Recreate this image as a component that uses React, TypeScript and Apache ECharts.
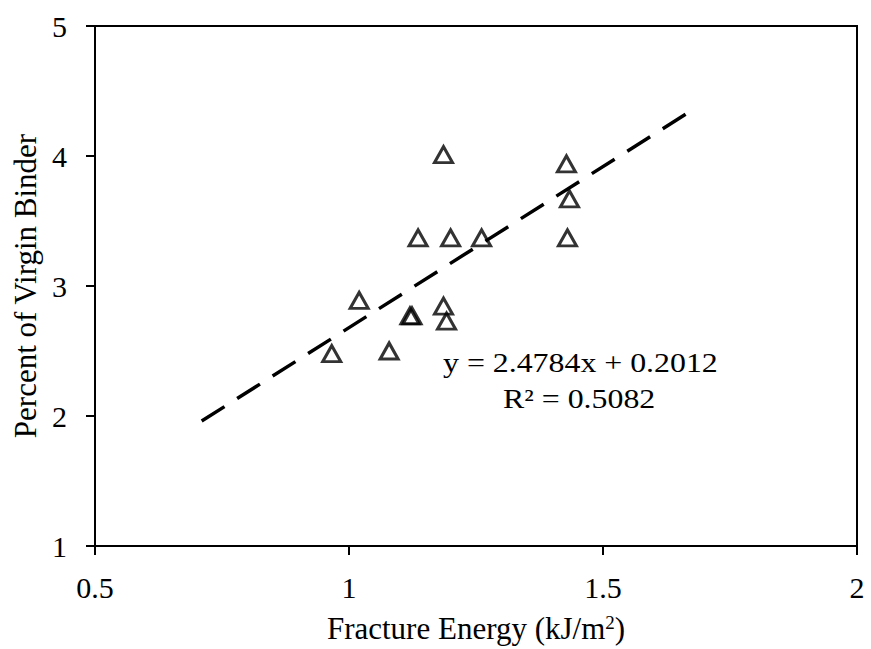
import React, { useEffect, useRef } from "react";
import * as echarts from "echarts";

const fractureEnergy = [0.966, 1.02, 1.079, 1.12, 1.124, 1.186, 1.186, 1.192, 1.136, 1.2, 1.261, 1.428, 1.434, 1.43];
const virginBinder = [2.48, 2.89, 2.5, 2.77, 2.77, 4.01, 2.845, 2.73, 3.37, 3.37, 3.37, 3.94, 3.67, 3.37];
const slope = 2.4784;
const intercept = 0.2012;
const trendRange = [0.71, 1.67];
const xTicks = [0.5, 1, 1.5, 2];
const yTicks = [1, 2, 3, 4, 5];
const equationText = "y = 2.4784x + 0.2012";
const r2Text = "R² = 0.5082";

const FONT = "'Liberation Serif', 'Times New Roman', serif";

export default function App() {
  const ref = useRef<HTMLDivElement>(null);
  useEffect(() => {
    if (!ref.current) return;
    const chart = echarts.init(ref.current, undefined, { renderer: "svg" });
    const scatterData = fractureEnergy.map((x, i) => [x, virginBinder[i]]);
    const trendData = trendRange.map((x) => [x, slope * x + intercept]);
    chart.setOption({
      animation: false,
      backgroundColor: "#fff",
      grid: {
        left: 95,
        right: 14,
        top: 26,
        bottom: 99,
        show: true,
        borderColor: "#000",
        borderWidth: 2,
        backgroundColor: "transparent",
      },
      xAxis: {
        type: "value",
        min: xTicks[0],
        max: xTicks[xTicks.length - 1],
        interval: 0.5,
        name: "Fracture Energy (kJ/m{sup|2})",
        nameLocation: "middle",
        nameGap: 67,
        nameTextStyle: {
          fontFamily: FONT,
          fontSize: 31,
          color: "#000",
          rich: { sup: { fontSize: 19, verticalAlign: "top", padding: [0, 0, 12, 0], fontFamily: FONT, color: "#000" } },
        },
        axisLine: { show: true, lineStyle: { color: "#000", width: 2 } },
        axisTick: { show: true, length: 9, lineStyle: { color: "#000", width: 2 } },
        splitLine: { show: false },
        axisLabel: {
          fontFamily: FONT,
          fontSize: 30,
          color: "#000",
          margin: 26,
          formatter: (v: number) => String(v),
        },
      },
      yAxis: {
        type: "value",
        min: yTicks[0],
        max: yTicks[yTicks.length - 1],
        interval: 1,
        name: "Percent of Virgin Binder",
        nameLocation: "middle",
        nameGap: 52,
        nameTextStyle: { fontFamily: FONT, fontSize: 31, color: "#000" },
        axisLine: { show: true, lineStyle: { color: "#000", width: 2 } },
        axisTick: { show: true, length: 9, lineStyle: { color: "#000", width: 2 } },
        splitLine: { show: false },
        axisLabel: { fontFamily: FONT, fontSize: 30, color: "#000", margin: 28 },
      },
      series: [
        {
          type: "line",
          data: trendData,
          symbol: "none",
          lineStyle: { color: "#000", width: 3.5, type: [27, 15], cap: "butt" },
          z: 1,
        },
        {
          type: "scatter",
          data: scatterData,
          symbol: "triangle",
          symbolSize: [18, 16],
          itemStyle: { color: "rgba(255,255,255,0)", borderColor: "#000", borderWidth: 3 },
          z: 2,
        },
      ],
      graphic: [
        {
          type: "text",
          x: 443,
          y: 349,
          scaleX: 1.18,
          style: { text: equationText, fontFamily: FONT, fontSize: 27, fill: "#000", align: "left", verticalAlign: "top" },
        },
        {
          type: "text",
          x: 503,
          y: 385,
          scaleX: 1.18,
          style: { text: r2Text, fontFamily: FONT, fontSize: 27, fill: "#000", align: "left", verticalAlign: "top" },
        },
      ],
    });
    return () => chart.dispose();
  }, []);
  return <div ref={ref} style={{ width: 871, height: 649, position: "absolute", left: 0, top: 0 }} />;
}
